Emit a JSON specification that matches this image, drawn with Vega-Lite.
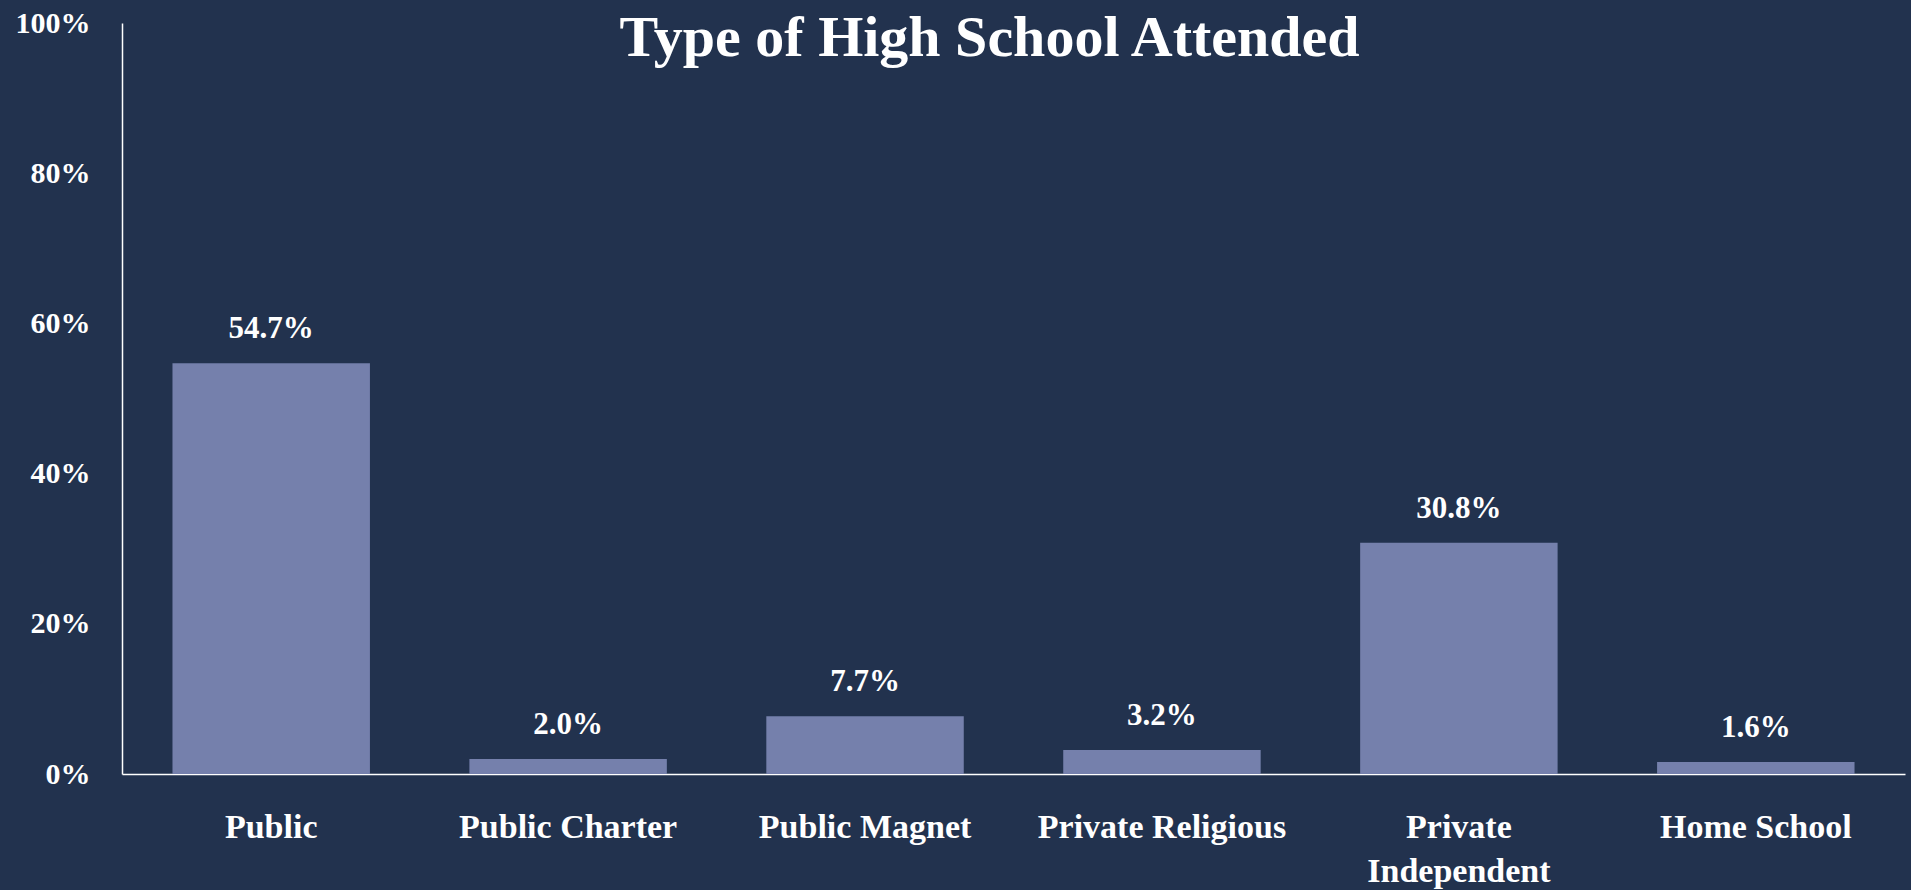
{
  "$schema": "https://vega.github.io/schema/vega-lite/v6.json",
  "autosize": {"type": "none"},
  "width": 1783,
  "height": 751,
  "padding": {"left": 122, "top": 23, "right": 6, "bottom": 116},
  "background": "#22324E",
  "title": {
    "text": "Type of High School Attended",
    "font": "Liberation Serif",
    "fontSize": 58,
    "fontWeight": "bold",
    "color": "#FFFFFF",
    "anchor": "middle",
    "baseline": "alphabetic",
    "offset": 0,
    "dx": -24,
    "dy": 106
  },
  "data": {
    "values": [
      {"type": "Public", "pct": 0.547},
      {"type": "Public Charter", "pct": 0.020},
      {"type": "Public Magnet", "pct": 0.077},
      {"type": "Private Religious", "pct": 0.032},
      {"type": "Private Independent", "pct": 0.308},
      {"type": "Home School", "pct": 0.016}
    ]
  },
  "encoding": {
    "x": {
      "field": "type",
      "type": "nominal",
      "sort": null,
      "title": null,
      "scale": {"paddingInner": 0.335, "paddingOuter": 0.17},
      "axis": {
        "labelAngle": 0,
        "labelFont": "Liberation Serif",
        "labelFontSize": 34,
        "labelFontWeight": "bold",
        "labelColor": "#FFFFFF",
        "labelPadding": 36,
        "labelLineHeight": 44,
        "labelLimit": 0,
        "labelExpr": "datum.label == 'Private Independent' ? ['Private', 'Independent'] : datum.label",
        "ticks": false,
        "domainColor": "#FFFFFF",
        "domainWidth": 1.5,
        "grid": false
      }
    },
    "y": {
      "field": "pct",
      "type": "quantitative",
      "title": null,
      "scale": {"domain": [0, 1]},
      "axis": {
        "values": [0, 0.2, 0.4, 0.6, 0.8, 1],
        "format": ".0%",
        "labelFont": "Liberation Serif",
        "labelFontSize": 30,
        "labelFontWeight": "bold",
        "labelColor": "#FFFFFF",
        "labelPadding": 32,
        "ticks": false,
        "domainColor": "#FFFFFF",
        "domainWidth": 1.5,
        "grid": false
      }
    }
  },
  "layer": [
    {
      "mark": {"type": "bar", "color": "#7580AC"}
    },
    {
      "mark": {
        "type": "text",
        "font": "Liberation Serif",
        "fontSize": 31,
        "fontWeight": "bold",
        "color": "#FFFFFF",
        "baseline": "alphabetic",
        "dy": -25
      },
      "encoding": {
        "text": {"field": "pct", "type": "quantitative", "format": ".1%"}
      }
    }
  ],
  "config": {"view": {"stroke": null}}
}
